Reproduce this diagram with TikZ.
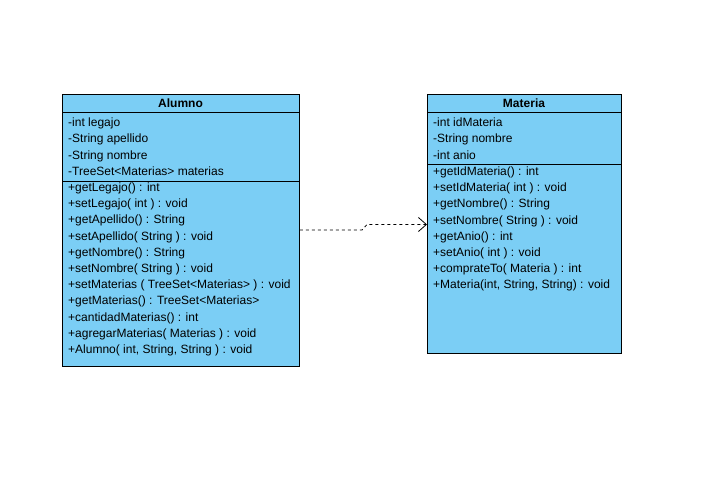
\documentclass[tikz,border=0pt]{standalone}
\usepackage{fontspec}
\setmainfont{Liberation Sans}
\usetikzlibrary{arrows.meta}
\definecolor{classblue}{HTML}{7BCEF5}
\tikzset{
  classpart/.style={draw, fill=classblue, anchor=north west, inner sep=0pt, line width=0.9pt},
  classname/.style={anchor=base, inner sep=0pt, font=\bfseries\fontsize{12}{14}\selectfont},
  member/.style={anchor=base west, inner sep=0pt, font=\fontsize{12}{14}\selectfont},
}
\begin{document}
\begin{tikzpicture}[x=1pt,y=-1pt]
\useasboundingbox (0,0) rectangle (706,478);

% Alumno
\node[classpart, minimum width=237pt, minimum height=18pt] (alumnoHead) at (62,94) {};
\node[classpart, minimum width=237pt, minimum height=69pt] (alumnoAttr) at (62,112) {};
\node[classpart, minimum width=237pt, minimum height=185pt] (alumnoOps) at (62,181) {};
\node[classname] at (180.5,107.5) {Alumno};
\foreach \txt [count=\i] in {-int legajo, -String apellido, -String nombre,
    -TreeSet<Materias> materias}
  \node[member] at (68,{126.5+16.3*(\i-1)}) {\txt};
\foreach \txt [count=\i] in {+getLegajo() : int, +setLegajo( int ) : void,
    +getApellido() : String, +setApellido( String ) : void,
    +getNombre() : String, +setNombre( String ) : void,
    +setMaterias ( TreeSet<Materias> ) : void, +getMaterias() : TreeSet<Materias>,
    +cantidadMaterias() : int, +agregarMaterias( Materias ) : void,
    {+Alumno( int, String, String ) : void}}
  \node[member] at (68,{191.5+16.2*(\i-1)}) {\txt};

% Materia
\node[classpart, minimum width=194pt, minimum height=18pt] (materiaHead) at (427,94) {};
\node[classpart, minimum width=194pt, minimum height=52pt] (materiaAttr) at (427,112) {};
\node[classpart, minimum width=194pt, minimum height=189pt] (materiaOps) at (427,164) {};
\node[classname] at (524,107.5) {Materia};
\foreach \txt [count=\i] in {-int idMateria, -String nombre, -int anio}
  \node[member] at (433,{126.5+16.3*(\i-1)}) {\txt};
\foreach \txt [count=\i] in {+getIdMateria() : int, +setIdMateria( int ) : void,
    +getNombre() : String, +setNombre( String ) : void,
    +getAnio() : int, +setAnio( int ) : void,
    +comprateTo( Materia ) : int, {+Materia(int, String, String) : void}}
  \node[member] at (433,{175.5+16.2*(\i-1)}) {\txt};

% dependency
\coordinate (bendA) at (362,230);
\coordinate (bendB) at (367,224.5);
\draw[line width=0.8pt, dash pattern=on 3pt off 3pt, -{Straight Barb[length=8pt, width=14pt]}]
  (alumnoOps.east |- bendA) -- (bendA) -- (bendB) -- (materiaOps.west |- bendB);
\end{tikzpicture}
\end{document}
